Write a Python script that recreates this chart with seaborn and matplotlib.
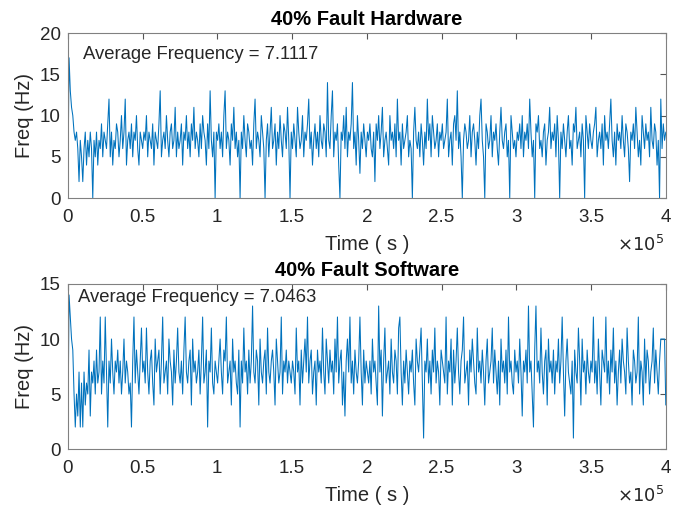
import numpy as np
import pandas as pd
import matplotlib
matplotlib.use("Agg")
import matplotlib.pyplot as plt
from matplotlib.ticker import FuncFormatter
import seaborn as sns

# frequency samples (Hz), evenly spaced over 0..4e5 s
hw_freq = [
    0, 17, 13, 11, 10, 8, 7, 8, 6, 2, 7, 5, 2, 6, 8, 4, 7, 5, 8, 6,
    0, 7, 5, 8, 4, 7, 6, 9, 5, 8, 7, 6, 9, 12, 5, 8, 4, 7, 6, 9,
    8, 5, 7, 10, 6, 8, 12, 4, 7, 8, 6, 9, 5, 8, 7, 10, 6, 4, 8, 7,
    6, 8, 7, 10, 5, 8, 7, 6, 9, 4, 8, 7, 6, 9, 13, 5, 7, 8, 6, 10,
    7, 5, 8, 9, 6, 7, 11, 5, 8, 6, 7, 9, 4, 8, 7, 10, 6, 8, 5, 9,
    7, 11, 6, 8, 7, 5, 9, 6, 10, 8, 7, 4, 9, 6, 13, 7, 5, 8, 0, 8,
    7, 9, 6, 8, 5, 10, 13, 6, 8, 7, 4, 9, 7, 11, 6, 8, 5, 7, 0, 8,
    6, 10, 7, 5, 9, 8, 6, 7, 4, 9, 12, 6, 8, 7, 5, 10, 8, 6, 0, 7,
    9, 5, 8, 11, 6, 7, 9, 4, 8, 6, 10, 7, 5, 9, 8, 6, 11, 7, 0, 8,
    6, 9, 7, 5, 11, 8, 6, 7, 10, 5, 8, 7, 9, 12, 6, 8, 4, 7, 9, 6,
    8, 5, 10, 7, 6, 9, 8, 5, 14, 7, 6, 10, 13, 5, 8, 7, 9, 4, 0, 8,
    7, 10, 6, 11, 5, 8, 7, 9, 14, 6, 8, 4, 10, 7, 3, 8, 6, 9, 7, 5,
    8, 7, 9, 6, 5, 8, 2, 9, 7, 10, 6, 8, 11, 5, 7, 8, 6, 4, 10, 7,
    8, 6, 9, 5, 12, 7, 8, 4, 9, 6, 7, 8, 10, 5, 7, 6, 0, 8, 11, 7,
    6, 8, 5, 9, 7, 4, 8, 6, 12, 7, 9, 5, 10, 8, 6, 7, 9, 5, 8, 7,
    9, 6, 7, 8, 12, 5, 7, 8, 4, 9, 10, 7, 13, 6, 8, 5, 0, 7, 9, 8,
    6, 7, 10, 5, 8, 9, 7, 4, 8, 6, 10, 12, 7, 5, 0, 9, 8, 6, 7, 10,
    5, 8, 7, 9, 6, 4, 8, 11, 7, 6, 8, 9, 5, 7, 0, 10, 8, 6, 7, 5,
    8, 7, 9, 6, 10, 5, 8, 7, 9, 6, 12, 8, 5, 7, 0, 9, 8, 10, 6, 7,
    5, 8, 9, 4, 7, 8, 11, 6, 8, 7, 9, 5, 10, 7, 0, 8, 6, 9, 7, 5,
    8, 10, 6, 7, 4, 9, 8, 11, 6, 7, 8, 5, 9, 7, 0, 10, 8, 6, 9, 7,
    6, 8, 9, 11, 5, 7, 8, 6, 9, 4, 10, 7, 8, 6, 9, 12, 7, 5, 8, 4,
    9, 7, 8, 6, 10, 7, 5, 9, 8, 6, 2, 8, 7, 9, 6, 11, 8, 5, 7, 4,
    10, 8, 6, 9, 7, 8, 5, 11, 7, 6, 9, 8, 4, 7, 0, 12, 6, 9, 7, 8,
]
sw_freq = [
    0, 14, 12, 10, 9, 5, 2, 5, 3, 7, 2, 6, 2, 7, 4, 6, 5, 9, 3, 7,
    6, 8, 5, 9, 6, 7, 12, 5, 8, 6, 12, 7, 2, 8, 6, 10, 7, 5, 8, 7,
    9, 6, 8, 5, 7, 10, 6, 8, 7, 5, 6, 2, 8, 12, 6, 9, 7, 5, 8, 11,
    7, 8, 6, 11, 7, 5, 8, 9, 6, 4, 10, 7, 8, 9, 5, 8, 12, 6, 7, 8,
    5, 10, 8, 7, 4, 9, 6, 8, 11, 7, 6, 8, 5, 9, 12, 7, 6, 8, 9, 4,
    10, 7, 8, 6, 7, 9, 5, 8, 12, 6, 7, 9, 2, 8, 7, 11, 6, 5, 8, 7,
    6, 8, 10, 7, 5, 9, 8, 12, 6, 7, 8, 4, 10, 7, 8, 6, 5, 9, 2, 8,
    6, 11, 7, 8, 5, 9, 6, 8, 13, 7, 6, 9, 8, 4, 10, 7, 6, 8, 9, 5,
    11, 7, 6, 8, 9, 7, 4, 10, 8, 6, 7, 12, 5, 8, 7, 9, 6, 8, 7, 6,
    8, 7, 5, 11, 7, 8, 4, 9, 6, 8, 10, 7, 12, 6, 8, 9, 5, 7, 8, 4,
    9, 7, 8, 6, 11, 7, 5, 10, 8, 6, 9, 7, 8, 5, 10, 7, 12, 6, 8, 9,
    4, 7, 3, 8, 10, 7, 12, 6, 8, 5, 9, 7, 6, 8, 12, 7, 4, 9, 6, 8,
    7, 6, 8, 5, 10, 7, 8, 6, 4, 13, 7, 9, 3, 8, 11, 6, 7, 8, 5, 10,
    7, 6, 9, 8, 5, 11, 12, 7, 4, 8, 6, 9, 7, 5, 8, 7, 9, 6, 4, 10,
    8, 7, 9, 11, 6, 1, 8, 7, 10, 6, 8, 5, 9, 7, 11, 6, 8, 7, 4, 9,
    8, 7, 6, 12, 5, 8, 7, 10, 4, 9, 6, 8, 11, 7, 5, 8, 9, 12, 6, 7,
    8, 4, 9, 7, 10, 8, 6, 5, 11, 7, 8, 6, 9, 7, 4, 8, 10, 6, 7, 8,
    11, 6, 9, 7, 5, 8, 4, 10, 7, 8, 6, 9, 5, 12, 7, 8, 6, 5, 9, 7,
    8, 6, 10, 7, 3, 8, 7, 9, 6, 13, 7, 8, 5, 2, 9, 13, 7, 8, 6, 11,
    7, 5, 8, 9, 4, 10, 7, 8, 6, 9, 5, 8, 7, 10, 6, 8, 12, 7, 3, 8,
    10, 7, 6, 5, 8, 1, 9, 7, 6, 11, 8, 4, 10, 7, 8, 5, 9, 7, 6, 8,
    7, 12, 6, 8, 5, 10, 7, 4, 9, 8, 7, 12, 6, 8, 5, 9, 7, 11, 6, 8,
    4, 7, 9, 6, 10, 8, 7, 5, 11, 8, 6, 7, 4, 9, 8, 6, 7, 12, 5, 8,
    7, 4, 10, 6, 9, 8, 5, 7, 8, 11, 6, 9, 7, 5, 8, 10, 10, 10, 10, 4,
]
titles = ["40% Fault Hardware", "40% Fault Software"]
avg_labels = ["Average Frequency = 7.1117", "Average Frequency = 7.0463"]
y_limits = [20, 15]
t_end = 4e5

sns.set_style("white")
plt.rcParams["font.family"] = ["Liberation Sans", "DejaVu Sans"]

fig = plt.figure(figsize=(6.78, 5.08), dpi=100)
ax_top = fig.add_axes([0.100, 0.610, 0.882, 0.325])
ax_bot = fig.add_axes([0.100, 0.116, 0.882, 0.325])

text_pos = [(0.025, 0.87), (0.017, 0.92)]
line_blue = "#0072BD"
dark = "#262626"

for ax, freq, title, label, ymax, tpos in zip(
        [ax_top, ax_bot], [hw_freq, sw_freq], titles, avg_labels, y_limits, text_pos):
    df = pd.DataFrame({"t": np.linspace(0, t_end, len(freq)), "f": freq})
    sns.lineplot(data=df, x="t", y="f", ax=ax, color=line_blue, linewidth=0.75)
    ax.set_xlim(0, t_end)
    ax.set_ylim(0, ymax)
    ax.set_yticks(np.arange(0, ymax + 1, 5))
    ax.set_xticks(np.arange(0, t_end + 1, 0.5e5))
    ax.xaxis.set_major_formatter(FuncFormatter(lambda v, p: f"{v / 1e5:g}"))
    ax.text(0.997, -0.285, r"$\times10^5$", transform=ax.transAxes,
            ha="right", va="center", fontsize=13, color=dark)
    ax.set_title(title, fontsize=14.5, fontweight="bold", pad=6, color="black")
    ax.set_xlabel("Time ( s )", fontsize=14.5, labelpad=6, color=dark)
    ax.set_ylabel("Freq (Hz)", fontsize=14.5, labelpad=4, color=dark)
    ax.tick_params(direction="in", top=True, right=True, labelsize=13.5,
                   length=4, color="#555555", labelcolor=dark)
    ax.tick_params(axis="x", pad=8)
    ax.tick_params(axis="y", pad=5)
    for s in ax.spines.values():
        s.set_color("#808080")
        s.set_linewidth(0.8)
    ax.text(tpos[0], tpos[1], label, transform=ax.transAxes, fontsize=13.3,
            ha="left", va="center", color=dark)

fig.savefig("out.png", dpi=100)
